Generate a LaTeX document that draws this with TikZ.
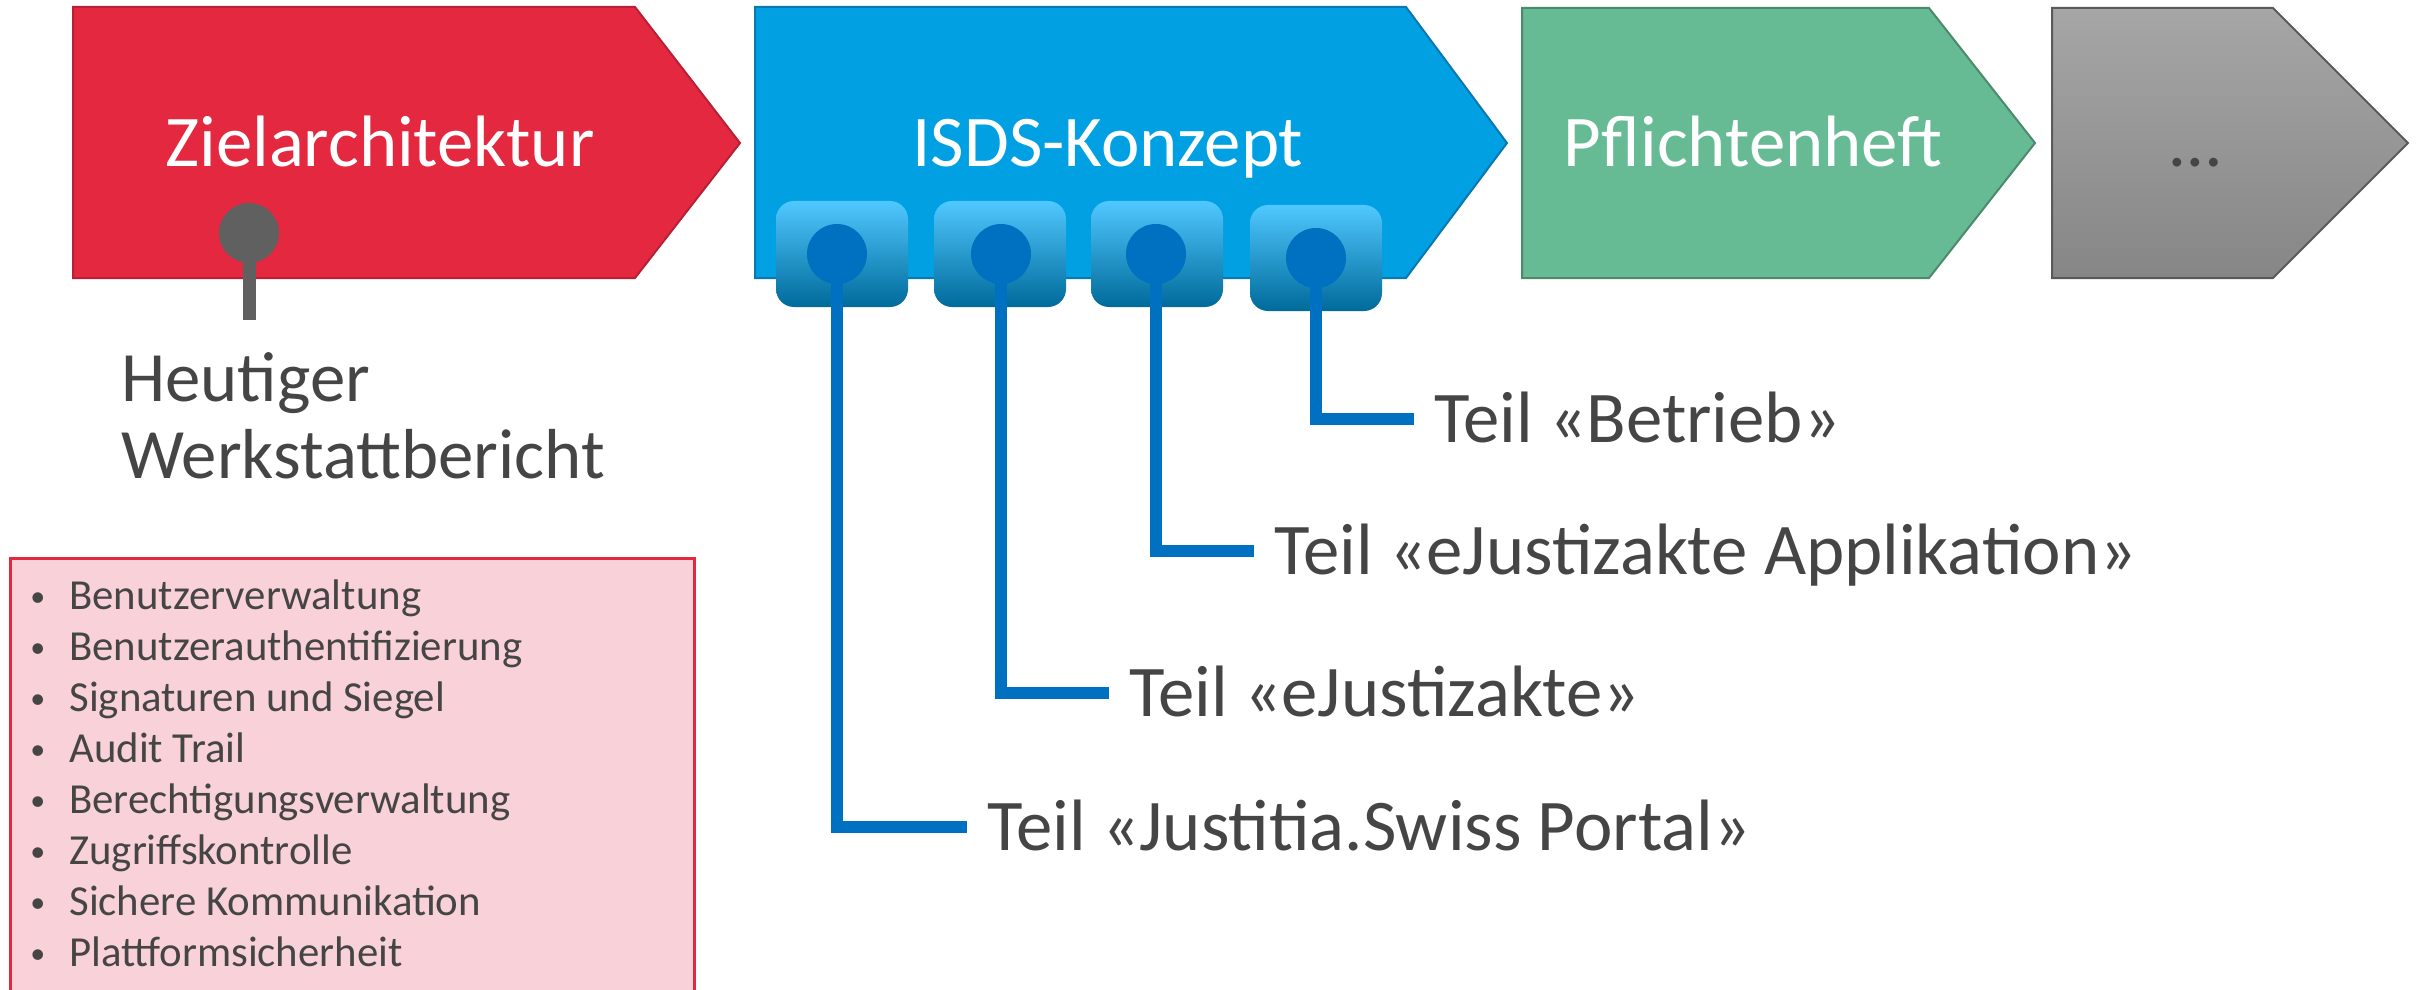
\documentclass[tikz,border=0pt]{standalone}
\usepackage{fontspec}
\setmainfont{Carlito}

\definecolor{zielred}{HTML}{E4283F}
\definecolor{zielredline}{HTML}{B82035}
\definecolor{isdsblue}{HTML}{00A0E2}
\definecolor{isdsline}{HTML}{0B78B0}
\definecolor{pflgreen}{HTML}{66BB95}
\definecolor{pflline}{HTML}{4C8A6C}
\definecolor{resttop}{HTML}{A6A6A6}
\definecolor{restbot}{HTML}{868686}
\definecolor{restline}{HTML}{5A5A5A}
\definecolor{pingray}{HTML}{606060}
\definecolor{pinblue}{HTML}{0070C0}
\definecolor{teiltop}{HTML}{50C8FF}
\definecolor{teilmid}{HTML}{06A6EA}
\definecolor{teilbot}{HTML}{006A9A}
\definecolor{listpink}{HTML}{F9D1D8}
\definecolor{txtgray}{HTML}{454545}

\newcommand{\listbullet}{\makebox[18pt][l]{\hspace{-1.5pt}\raisebox{1.2pt}{\scalebox{0.7}{•}}}}

\tikzset{
  phase/.style={line width=1pt},
  phaselabel/.style={anchor=base, inner sep=0pt, text=white,
    font=\fontsize{36.4}{40}\selectfont},
  teilbox/.style={draw=none, rounded corners=9pt, top color=teiltop,
    middle color=teilmid, bottom color=teilbot},
  teilline/.style={draw=pinblue, line width=6pt},
  pindot/.style={circle, fill=pinblue, minimum size=30pt, inner sep=0pt},
  teillabel/.style={anchor=west, inner xsep=10pt, inner ysep=0pt,
    text height=23pt, text depth=0pt, text=txtgray,
    font=\fontsize{36.4}{40}\selectfont},
  listitem/.style={anchor=base west, inner sep=0pt, text=txtgray,
    font=\fontsize{21.4}{25.5}\selectfont}
}

\begin{document}
\begin{tikzpicture}[x=0.5pt,y=-0.5pt]
  \useasboundingbox (0,0) rectangle (2422,990);

  % Phasen
  \draw[phase, fill=zielred, draw=zielredline]
    (73,7) -- (635,7) -- (740,143) -- (635,278) -- (73,278) -- cycle;
  \draw[phase, fill=isdsblue, draw=isdsline]
    (755,7) -- (1406,7) -- (1507,143) -- (1406,278) -- (755,278) -- cycle;
  \draw[phase, fill=pflgreen, draw=pflline]
    (1522,8) -- (1929,8) -- (2035,143) -- (1929,278) -- (1522,278) -- cycle;
  \draw[phase, top color=resttop, bottom color=restbot, draw=restline]
    (2052,8) -- (2273,8) -- (2408,143) -- (2273,278) -- (2052,278) -- cycle;

  \node[phaselabel] (ziel) at (380,167) {Zielarchitektur};
  \node[phaselabel] (isds) at (1108,167) {ISDS-Konzept};
  \node[phaselabel] (pfl) at (1753,167) {Pflichtenheft};
  \node[phaselabel, text=txtgray] (rest) at (2196,167) {…};

  % heutiger Stand
  \coordinate (heute-pin) at (249,233);
  \coordinate (heute-end) at (249,320);
  \draw[draw=pingray, line width=6.5pt] (heute-pin) -- (heute-end);
  \node[circle, fill=pingray, minimum size=30pt, inner sep=0pt] (heute-dot) at (heute-pin) {};
  \node[anchor=base west, inner sep=0pt, text width=300pt, align=left, text=txtgray,
    font=\fontsize{35.4}{38.5}\selectfont] (heute) at (121,401)
    {Heutiger\\Werkstattbericht};

  % Teile des ISDS-Konzepts
  \foreach \n/\x/\bx/\y in {portal/837/842/254, akte/1001/1000/254,
      appl/1156/1157/254, betrieb/1316/1316/258}{
    \draw[teilbox] (\bx-66,\y-53) rectangle (\bx+66,\y+53);
    \coordinate (\n) at (\x,\y);
  }
  \node[teillabel] (portal-l) at (967,827) {Teil «Justitia.Swiss Portal»};
  \node[teillabel] (akte-l) at (1109,693) {Teil «eJustizakte»};
  \node[teillabel] (appl-l) at (1254,551) {Teil «eJustizakte Applikation»};
  \node[teillabel] (betrieb-l) at (1414,419) {Teil «Betrieb»};
  \foreach \n in {portal,akte,appl,betrieb}{
    \draw[teilline] (\n) |- (\n-l.west);
    \node[pindot] (\n-dot) at (\n) {};
  }

  % Sicherheitsthemen
  \draw[fill=listpink, draw=zielred, line width=1.5pt] (10,558) rectangle (694,991);
  \foreach \t [count=\i] in {Benutzerverwaltung, Benutzerauthentifizierung,
      Signaturen und Siegel, Audit Trail, Berechtigungsverwaltung,
      Zugriffskontrolle, Sichere Kommunikation, Plattformsicherheit}
    \node[listitem] (item\i) at (33,558+51*\i) {\listbullet\t};

\end{tikzpicture}
\end{document}
